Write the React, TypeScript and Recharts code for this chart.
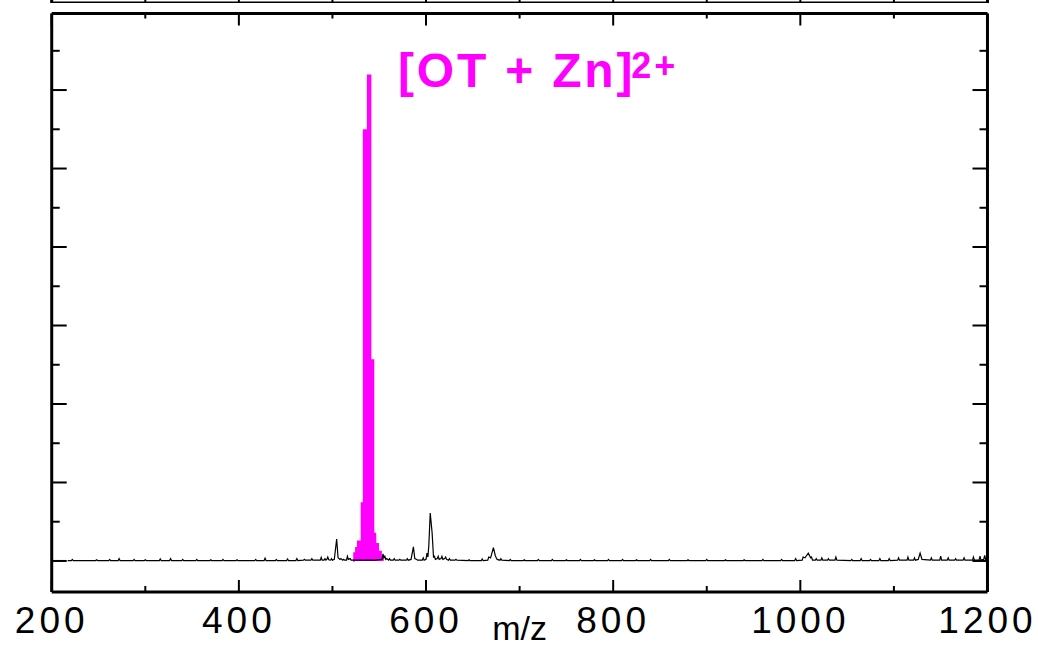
import React from 'react';
import { ComposedChart, Line, Area, XAxis, YAxis, Label } from 'recharts';

// axis ranges and tick positions
const xDomain = [200, 1200];
const yDomain = [-0.395, 6.975];
const xLabelTicks = [200, 400, 600, 800, 1000, 1200];
const xMajorTicks = [200, 400, 600, 800, 1000, 1200];
const xMinorTicks = [300, 500, 700, 900, 1100];
const xAllTicks = [200, 300, 400, 500, 600, 700, 800, 900, 1000, 1100, 1200];
const yMajorTicks = [0, 1, 2, 3, 4, 5, 6];
const yMinorTicks = [0.5, 1.5, 2.5, 3.5, 4.5, 5.5, 6.5];

// black spectrum trace: [m/z, intensity]
const blackTrace: [number, number][] = [
  [217, 0.005], [221, 0.005], [222, 0.02], [223, 0.005], [247, 0.005], [248, 0.015], [249, 0.005],
  [261, 0.005], [262, 0.02], [263, 0.005], [271, 0.005], [272, 0.03], [273, 0.005], [287, 0.005],
  [288, 0.02], [289, 0.005], [299, 0.005], [300, 0.015], [301, 0.005], [315, 0.005], [316, 0.025],
  [317, 0.005], [326, 0.005], [327, 0.03], [328, 0.005], [339, 0.005], [340, 0.02], [341, 0.005],
  [354, 0.005], [355, 0.02], [356, 0.005], [369, 0.005], [370, 0.015], [371, 0.005], [382, 0.005],
  [383, 0.02], [384, 0.005], [397, 0.005], [398, 0.015], [399, 0.005], [417, 0.005], [418, 0.02],
  [419, 0.005], [427, 0.005], [428, 0.035], [429, 0.005], [439, 0.005], [440, 0.02], [441, 0.005],
  [451, 0.005], [452, 0.025], [453, 0.005], [461, 0.005], [462, 0.03], [463, 0.005], [469, 0.01],
  [470, 0.02], [471, 0.01], [477, 0.01], [478, 0.03], [479, 0.01], [487, 0.01], [488, 0.045],
  [489, 0.01], [491, 0.01], [492, 0.03], [493, 0.01], [494, 0.02], [495, 0.05], [496, 0.015],
  [498, 0.01], [499, 0.03], [500, 0.01], [502, 0.02], [504.5, 0.28], [506, 0.04], [508, 0.02],
  [509, 0.03], [511, 0.01], [512, 0.02], [513, 0.01], [515, 0.01], [516, 0.06], [517, 0.02],
  [519, 0.03], [520, 0.01], [522, 0.01], [530, 0.01], [545, 0.01], [553, 0.02], [554, 0.09],
  [555, 0.04], [556, 0.06], [557, 0.02], [558, 0.03], [560, 0.01], [561, 0.03], [562, 0.01],
  [565, 0.01], [566, 0.03], [567, 0.01], [571, 0.01], [572, 0.02], [573, 0.01], [579, 0.01],
  [580, 0.03], [581, 0.01], [584, 0.02], [586.5, 0.18], [588, 0.03], [590, 0.02], [591, 0.01],
  [596, 0.01], [597, 0.04], [598, 0.01], [600, 0.02], [601, 0.1], [602, 0.05], [603, 0.2],
  [604.5, 0.61], [606.5, 0.36], [608, 0.05], [609, 0.06], [610, 0.02], [612, 0.03], [613, 0.06],
  [614, 0.02], [616, 0.03], [617, 0.06], [618, 0.02], [620, 0.03], [621, 0.05], [622, 0.02],
  [624, 0.01], [625, 0.03], [626, 0.01], [631, 0.01], [632, 0.02], [633, 0.01], [645, 0.005],
  [646, 0.015], [647, 0.005], [659, 0.005], [660, 0.025], [661, 0.005], [666, 0.01], [667, 0.05],
  [669, 0.04], [672, 0.17], [674, 0.07], [675, 0.04], [676, 0.02], [679, 0.01], [680, 0.03],
  [681, 0.01], [689, 0.005], [690, 0.02], [691, 0.005], [704, 0.005], [705, 0.015], [706, 0.005],
  [719, 0.005], [720, 0.02], [721, 0.005], [734, 0.005], [735, 0.02], [736, 0.005], [749, 0.005],
  [750, 0.015], [751, 0.005], [764, 0.005], [765, 0.02], [766, 0.005], [779, 0.005], [780, 0.015],
  [781, 0.005], [794, 0.005], [795, 0.02], [796, 0.005], [809, 0.005], [810, 0.02], [811, 0.005],
  [824, 0.005], [825, 0.015], [826, 0.005], [839, 0.005], [840, 0.02], [841, 0.005], [859, 0.005],
  [860, 0.02], [861, 0.005], [879, 0.005], [880, 0.015], [881, 0.005], [899, 0.005], [900, 0.02],
  [901, 0.005], [919, 0.005], [920, 0.015], [921, 0.005], [939, 0.005], [940, 0.015], [941, 0.005],
  [959, 0.005], [960, 0.02], [961, 0.005], [979, 0.005], [980, 0.02], [981, 0.005], [994, 0.005],
  [995, 0.03], [996, 0.005], [1002, 0.01], [1003, 0.05], [1005, 0.04], [1008.5, 0.1], [1011, 0.04],
  [1012, 0.05], [1013, 0.01], [1016, 0.01], [1017, 0.03], [1018, 0.01], [1022, 0.01], [1023, 0.04],
  [1024, 0.01], [1029, 0.01], [1030, 0.03], [1031, 0.01], [1037, 0.01], [1038, 0.05], [1039, 0.01],
  [1054, 0.005], [1055, 0.02], [1056, 0.005], [1064, 0.005], [1065, 0.03], [1066, 0.005],
  [1074, 0.005], [1075, 0.02], [1076, 0.005], [1084, 0.005], [1085, 0.03], [1086, 0.005],
  [1094, 0.005], [1095, 0.03], [1096, 0.005], [1104, 0.01], [1105, 0.04], [1106, 0.01],
  [1114, 0.01], [1115, 0.05], [1116, 0.01], [1121, 0.01], [1122, 0.04], [1123, 0.01],
  [1126, 0.02], [1128, 0.1], [1130, 0.02], [1139, 0.01], [1140, 0.04], [1141, 0.01],
  [1149, 0.01], [1150, 0.06], [1151, 0.01], [1157, 0.01], [1158, 0.04], [1159, 0.01],
  [1165, 0.01], [1166, 0.03], [1167, 0.01], [1174, 0.01], [1175, 0.04], [1176, 0.01],
  [1184, 0.01], [1185, 0.05], [1186, 0.01], [1191, 0.01], [1192, 0.06], [1193, 0.01],
  [1196, 0.02], [1197, 0.07], [1198, 0.02], [1200, 0.05],
];

// [OT + Zn]2+ isotope cluster (magenta, stepped)
const magentaTrace: [number, number][] = [
  [522, 0], [523, 0.1], [525, 0.17], [527, 0.25], [531, 0.74], [533.3, 5.49],
  [537.6, 6.19], [540.8, 2.56], [543.9, 0.35], [546, 0.22], [549, 0.12], [552, 0.05], [554, 0],
];

const blackData = blackTrace.map(([mz, y]) => ({ mz, y }));
const magentaData = magentaTrace.map(([mz, y]) => ({ mz, y }));
const frameData = [{ mz: 200, y: 0 }, { mz: 1200, y: 0 }];

const FONT = 'Arial, "Liberation Sans", Helvetica, sans-serif';
const MAGENTA = '#FF00FF';
const frame = { stroke: '#000', strokeWidth: 3 };
const tickStroke = { stroke: '#000', strokeWidth: 2 };
const margin = { top: 13.5, right: 50.5, bottom: 55, left: 51.7 };
const THIN = 0.01; // axes take (almost) no room, so stacked axes share one edge

// tick lines only, no labels
const NoLabel = () => <g />;

const App: React.FC = () => {
  return (
    <div style={{ position: 'absolute', left: 0, top: 0, width: 1038, height: 647, background: '#fff', overflow: 'hidden' }}>
      {/* bottom edge of the panel above */}
      <div style={{ position: 'absolute', left: 0, top: -37.5 }}>
        <ComposedChart width={1038} height={40} margin={{ top: 0, right: 50.5, bottom: 0, left: 51.7 }}>
          <XAxis xAxisId="b" type="number" dataKey="mz" domain={xDomain} allowDataOverflow ticks={xAllTicks}
            interval={0} height={THIN} tick={NoLabel} tickSize={-12} tickLine={tickStroke} axisLine={frame} />
          <YAxis yAxisId="l" type="number" domain={[0, 1]} width={THIN} tick={false} tickLine={false} axisLine={frame} />
          <YAxis yAxisId="r" orientation="right" type="number" domain={[0, 1]} width={THIN} tick={false} tickLine={false} axisLine={frame} />
          <Line xAxisId="b" yAxisId="l" data={frameData} dataKey="y" stroke="none" dot={false} isAnimationActive={false} />
        </ComposedChart>
      </div>

      <div style={{ position: 'absolute', left: 0, top: 0 }}>
        <ComposedChart width={1038} height={647} margin={margin}>
          {/* bottom axes */}
          <XAxis xAxisId="bm" type="number" dataKey="mz" domain={xDomain} allowDataOverflow ticks={xMajorTicks}
            interval={0} height={THIN} tick={NoLabel} tickSize={-12} tickLine={tickStroke} axisLine={frame} />
          <XAxis xAxisId="bn" type="number" dataKey="mz" domain={xDomain} allowDataOverflow ticks={xMinorTicks}
            interval={0} height={THIN} tick={NoLabel} tickSize={-6} tickLine={tickStroke} axisLine={false} />
          <XAxis xAxisId="bl" type="number" dataKey="mz" domain={xDomain} allowDataOverflow ticks={xLabelTicks}
            interval={0} height={THIN} tickSize={0} tickMargin={15} tickLine={false} axisLine={false}
            tick={{ fontSize: 37, fill: '#000', fontFamily: FONT, letterSpacing: 4 }}>
            <Label value="m/z" position="bottom" offset={24} style={{ fontSize: 34, fill: '#000', fontFamily: FONT }} />
          </XAxis>
          {/* top axes */}
          <XAxis xAxisId="tm" orientation="top" type="number" dataKey="mz" domain={xDomain} allowDataOverflow ticks={xMajorTicks}
            interval={0} height={THIN} tick={NoLabel} tickSize={-12} tickLine={tickStroke} axisLine={frame} />
          <XAxis xAxisId="tn" orientation="top" type="number" dataKey="mz" domain={xDomain} allowDataOverflow ticks={xMinorTicks}
            interval={0} height={THIN} tick={NoLabel} tickSize={-5} tickLine={tickStroke} axisLine={false} />
          {/* left / right axes */}
          <YAxis yAxisId="lm" type="number" domain={yDomain} allowDataOverflow ticks={yMajorTicks}
            interval={0} width={THIN} tick={NoLabel} tickSize={-15} tickLine={tickStroke} axisLine={frame} />
          <YAxis yAxisId="ln" type="number" domain={yDomain} allowDataOverflow ticks={yMinorTicks}
            interval={0} width={THIN} tick={NoLabel} tickSize={-8} tickLine={tickStroke} axisLine={false} />
          <YAxis yAxisId="rm" orientation="right" type="number" domain={yDomain} allowDataOverflow ticks={yMajorTicks}
            interval={0} width={THIN} tick={NoLabel} tickSize={-15} tickLine={tickStroke} axisLine={frame} />
          <YAxis yAxisId="rn" orientation="right" type="number" domain={yDomain} allowDataOverflow ticks={yMinorTicks}
            interval={0} width={THIN} tick={NoLabel} tickSize={-8} tickLine={tickStroke} axisLine={false} />

          <Line xAxisId="bm" yAxisId="lm" data={blackData} dataKey="y" type="linear" stroke="#000"
            strokeWidth={1.2} dot={false} isAnimationActive={false} />
          <Area xAxisId="bm" yAxisId="lm" data={magentaData} dataKey="y" type="stepAfter" baseValue={0}
            stroke={MAGENTA} strokeWidth={1.5} fill={MAGENTA} fillOpacity={1} dot={false} isAnimationActive={false} />
        </ComposedChart>
      </div>

      <svg width={1038} height={647} style={{ position: 'absolute', left: 0, top: 0, pointerEvents: 'none' }}>
        <text x={398} y={87} fill={MAGENTA} fontFamily={FONT} fontWeight="bold" fontSize={48} letterSpacing={2.8}>
          [OT + Zn]
          <tspan fontSize={36} dx={-4} dy={-9} letterSpacing={3}>2+</tspan>
        </text>
      </svg>
    </div>
  );
};

export default App;
